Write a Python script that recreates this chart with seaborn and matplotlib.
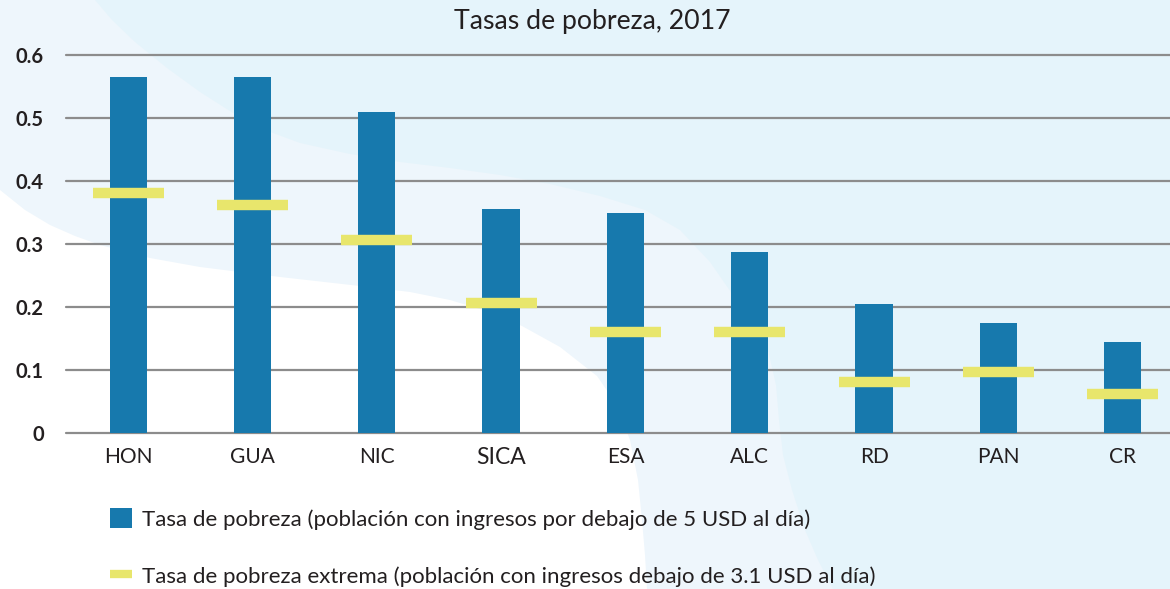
import numpy as np
import matplotlib.pyplot as plt
from matplotlib.patches import Polygon, Patch
from matplotlib.lines import Line2D
import seaborn as sns
import pandas as pd

# datos
paises = ['HON', 'GUA', 'NIC', 'SICA', 'ESA', 'ALC', 'RD', 'PAN', 'CR']
pobreza = [0.565, 0.565, 0.510, 0.356, 0.349, 0.287, 0.205, 0.175, 0.144]
pobreza_extrema = [0.381, 0.362, 0.306, 0.206, 0.160, 0.160, 0.081, 0.097, 0.062]

titulo = 'Tasas de pobreza, 2017'
etiqueta_pobreza = 'Tasa de pobreza (población con ingresos por debajo de 5 USD al día)'
etiqueta_extrema = 'Tasa de pobreza extrema (población con ingresos debajo de 3.1 USD al día)'

azul = '#1779ad'
amarillo = '#e8e66c'
texto = '#231f20'

sns.set_theme(style='white')
plt.rcParams['font.family'] = ['Lato', 'DejaVu Sans']

W, H = 1170, 589
fig = plt.figure(figsize=(W / 100, H / 100), dpi=100)
fig.patch.set_facecolor('#e5f4fb')


def px(pts):
    # pixeles -> coordenadas de figura
    return [(x / W, 1 - y / H) for x, y in pts]


# fondo decorativo (curvas aproximadas)
claro = [(0, 0), (95, 0), (112, 20), (135, 42), (167, 68), (200, 92), (233, 113),
         (265, 130), (300, 143), (350, 154), (400, 162), (450, 168), (500, 175),
         (550, 184), (600, 196), (645, 210), (680, 230), (710, 262), (735, 298),
         (755, 325), (768, 350), (776, 385), (779, 420), (783, 455), (792, 490),
         (805, 530), (818, 560), (833, 589), (0, 589)]
blanco = [(0, 190), (25, 210), (50, 225), (75, 236), (100, 245), (150, 258),
          (200, 267), (280, 277), (360, 286), (410, 292), (450, 300), (490, 312),
          (522, 326), (560, 347), (597, 376), (617, 405), (630, 440), (638, 480),
          (642, 520), (645, 555), (647, 589), (0, 589)]
fig.add_artist(Polygon(px(claro), closed=True, transform=fig.transFigure,
                       facecolor='#eef6fc', edgecolor='none', zorder=0))
fig.add_artist(Polygon(px(blanco), closed=True, transform=fig.transFigure,
                       facecolor='white', edgecolor='none', zorder=0))

ax = fig.add_axes([66 / W, 1 - 433 / H, 1 - 66 / W, (433 - 55) / H])
ax.set_facecolor('none')

df = pd.DataFrame({'pais': paises, 'pobreza': pobreza, 'extrema': pobreza_extrema})
sns.barplot(data=df, x='pais', y='pobreza', color=azul, width=0.3,
            saturation=1, edgecolor='none', linewidth=0, ax=ax, zorder=3)
xs = np.arange(len(paises))
ax.hlines(df['extrema'], xs - 0.285, xs + 0.285, color=amarillo, lw=7.5,
          capstyle='butt', zorder=4)

ax.set_xlim(-0.5, 8.38)
ax.set_ylim(0, 0.6)
ax.set_yticks([0, 0.1, 0.2, 0.3, 0.4, 0.5, 0.6])
ax.set_yticklabels(['0', '0.1', '0.2', '0.3', '0.4', '0.5', '0.6'])
ax.yaxis.grid(True, color='#8c8c8c', lw=1.6, zorder=1)
ax.set_axisbelow(True)
for s in ax.spines.values():
    s.set_visible(False)
ax.tick_params(axis='y', length=0, pad=16, labelsize=14.5, labelcolor=texto)
ax.tick_params(axis='x', length=0, pad=10, labelsize=15, labelcolor=texto)
for t in ax.get_yticklabels():
    t.set_fontweight('bold')
for t in ax.get_xticklabels():
    if t.get_text() == 'SICA':
        t.set_fontsize(16.5)
for ln in ax.get_ygridlines():
    ln.set_clip_on(False)
ax.set_xlabel('')
ax.set_ylabel('')

fig.text(592 / W, 1 - 22 / H, titulo, ha='center', va='center',
         fontsize=19.2, color=texto)

handles = [Patch(facecolor=azul, edgecolor='none'),
           Line2D([0], [0], color=amarillo, lw=6, solid_capstyle='butt')]
fig.legend(handles, [etiqueta_pobreza, etiqueta_extrema], loc='upper left',
           bbox_to_anchor=(110 / W, 1 - 508 / H), frameon=False,
           fontsize=16, labelcolor=texto, handlelength=1.0, handleheight=1.0,
           handletextpad=0.42, labelspacing=1.6, borderaxespad=0, borderpad=0)

fig.savefig('out.png', dpi=100, facecolor=fig.get_facecolor())
